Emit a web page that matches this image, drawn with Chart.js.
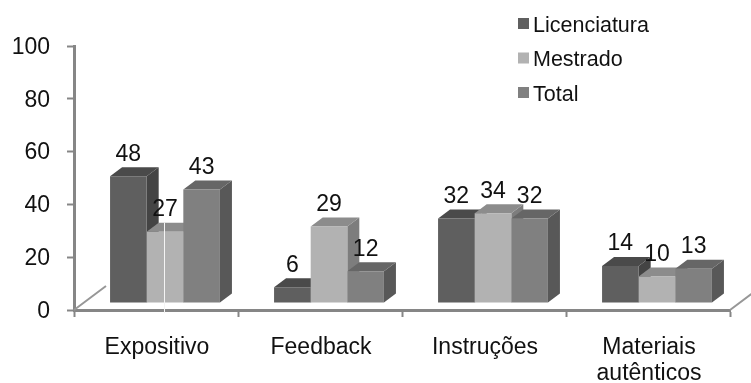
<!DOCTYPE html>
<html>
<head>
<meta charset="utf-8">
<script src="https://cdn.jsdelivr.net/npm/chart.js@4"></script>
<style>
  html, body { margin: 0; background: #fff; }
  canvas { display: block; }
</style>
</head>
<body>
<canvas id="myChart" width="751" height="383"></canvas>
<script>
const categorias = ['Expositivo', 'Feedback', 'Instruções', ['Materiais', 'autênticos']];
const licenciatura = [48, 6, 32, 14];
const mestrado = [27, 29, 34, 10];
const total = [43, 12, 32, 13];
const marcasY = [0, 20, 40, 60, 80, 100];

// frente, lado e topo de cada serie
const corLicenciatura = ['#5f5f5f', '#444444', '#4a4a4a'];
const corMestrado = ['#b2b2b2', '#7d7d7d', '#8c8c8c'];
const corTotal = ['#808080', '#585858', '#666666'];

const fonte = '"Liberation Sans", Arial, sans-serif';
const corTexto = '#111111';
const corEixo = '#868686';

// deslocamento das barras em relacao aos eixos e profundidade do efeito 3D
const desvioX = 9, desvioY = -7;
const fundoX = 12, fundoY = -9;

const face = (ctx, cor, pts) => {
  ctx.fillStyle = cor;
  ctx.beginPath();
  pts.forEach((p, i) => i ? ctx.lineTo(p[0], p[1]) : ctx.moveTo(p[0], p[1]));
  ctx.closePath();
  ctx.fill();
};

const barras3d = {
  id: 'barras3d',
  beforeDatasetsDraw: (chart) => {
    const {ctx, chartArea, scales} = chart;
    const yZero = scales.y.getPixelForValue(0);

    // linhas do chao
    ctx.save();
    ctx.strokeStyle = '#979797';
    ctx.lineWidth = 2;
    ctx.beginPath();
    ctx.moveTo(chartArea.left, yZero);
    ctx.lineTo(chartArea.left + 32, yZero - 24);
    ctx.moveTo(chartArea.right, yZero);
    ctx.lineTo(chartArea.right + 32, yZero - 24);
    ctx.stroke();
    ctx.restore();

    ctx.save();
    ctx.translate(desvioX, desvioY);
    chart.data.datasets.forEach((ds, i) => {
      chart.getDatasetMeta(i).data.forEach((bar) => {
        const esq = bar.x - bar.width / 2, dir = bar.x + bar.width / 2;
        face(ctx, ds.cores[1], [[dir, bar.y], [dir + fundoX, bar.y + fundoY], [dir + fundoX, bar.base + fundoY], [dir, bar.base]]);
        face(ctx, ds.cores[2], [[esq, bar.y], [esq + fundoX, bar.y + fundoY], [dir + fundoX, bar.y + fundoY], [dir, bar.y]]);
      });
    });
  },
  afterDatasetsDraw: (chart) => {
    const {ctx, scales} = chart;
    ctx.restore();

    // fio branco que atravessa a primeira barra do Mestrado
    const m = chart.getDatasetMeta(1).data[0];
    ctx.save();
    ctx.fillStyle = '#f4f4f4';
    ctx.fillRect(m.x + desvioX - 1, m.y + desvioY + fundoY, 1, scales.y.bottom + 3 - (m.y + desvioY + fundoY));
    ctx.restore();

    // valores por cima das barras
    ctx.save();
    ctx.font = '23px ' + fonte;
    ctx.fillStyle = corTexto;
    ctx.textAlign = 'center';
    ctx.textBaseline = 'middle';
    chart.data.datasets.forEach((ds, i) => {
      chart.getDatasetMeta(i).data.forEach((bar, j) => {
        ctx.fillText(ds.data[j], bar.x + desvioX, bar.y + desvioY - 22);
      });
    });
    ctx.restore();

    // legenda no canto superior direito
    ctx.save();
    ctx.font = '21.5px ' + fonte;
    ctx.textBaseline = 'middle';
    chart.data.datasets.forEach((ds, i) => {
      const yLinha = 24 + i * 34.5;
      ctx.fillStyle = ds.cores[0];
      ctx.fillRect(518, yLinha - 6, 11, 11);
      ctx.fillStyle = corTexto;
      ctx.fillText(ds.label, 533, yLinha + 2);
    });
    ctx.restore();
  }
};

const data = {
  labels: categorias,
  datasets: [
    { label: 'Licenciatura', data: licenciatura, cores: corLicenciatura, backgroundColor: corLicenciatura[0] },
    { label: 'Mestrado', data: mestrado, cores: corMestrado, backgroundColor: corMestrado[0] },
    { label: 'Total', data: total, cores: corTotal, backgroundColor: corTotal[0] }
  ]
};

const config = {
  type: 'bar',
  data: data,
  options: {
    responsive: false,
    animation: false,
    clip: false,
    categoryPercentage: 0.67,
    barPercentage: 1,
    layout: {
      padding: { top: 46, right: 21, left: 0, bottom: 0 }
    },
    plugins: {
      legend: { display: false },
      tooltip: { enabled: false }
    },
    scales: {
      x: {
        afterFit: (s) => { s.height = 73; },
        border: { color: corEixo, width: 3 },
        grid: { drawOnChartArea: false, color: corEixo, tickLength: 7, tickWidth: 2 },
        ticks: { color: corTexto, font: { family: fonte, size: 23, lineHeight: 1.13 }, padding: 18, labelOffset: 1, maxRotation: 0 }
      },
      y: {
        min: 0,
        max: 100,
        afterFit: (s) => { s.width = 74; },
        afterBuildTicks: (s) => { s.ticks = marcasY.map(v => ({ value: v })); },
        border: { color: corEixo, width: 3 },
        grid: { drawOnChartArea: false, color: corEixo, tickLength: 7, tickWidth: 2 },
        ticks: { color: corTexto, font: { family: fonte, size: 23 }, padding: 17, labelOffset: 1.5 }
      }
    }
  },
  plugins: [barras3d]
};

const myChart = new Chart(document.getElementById('myChart'), config);
</script>
</body>
</html>
